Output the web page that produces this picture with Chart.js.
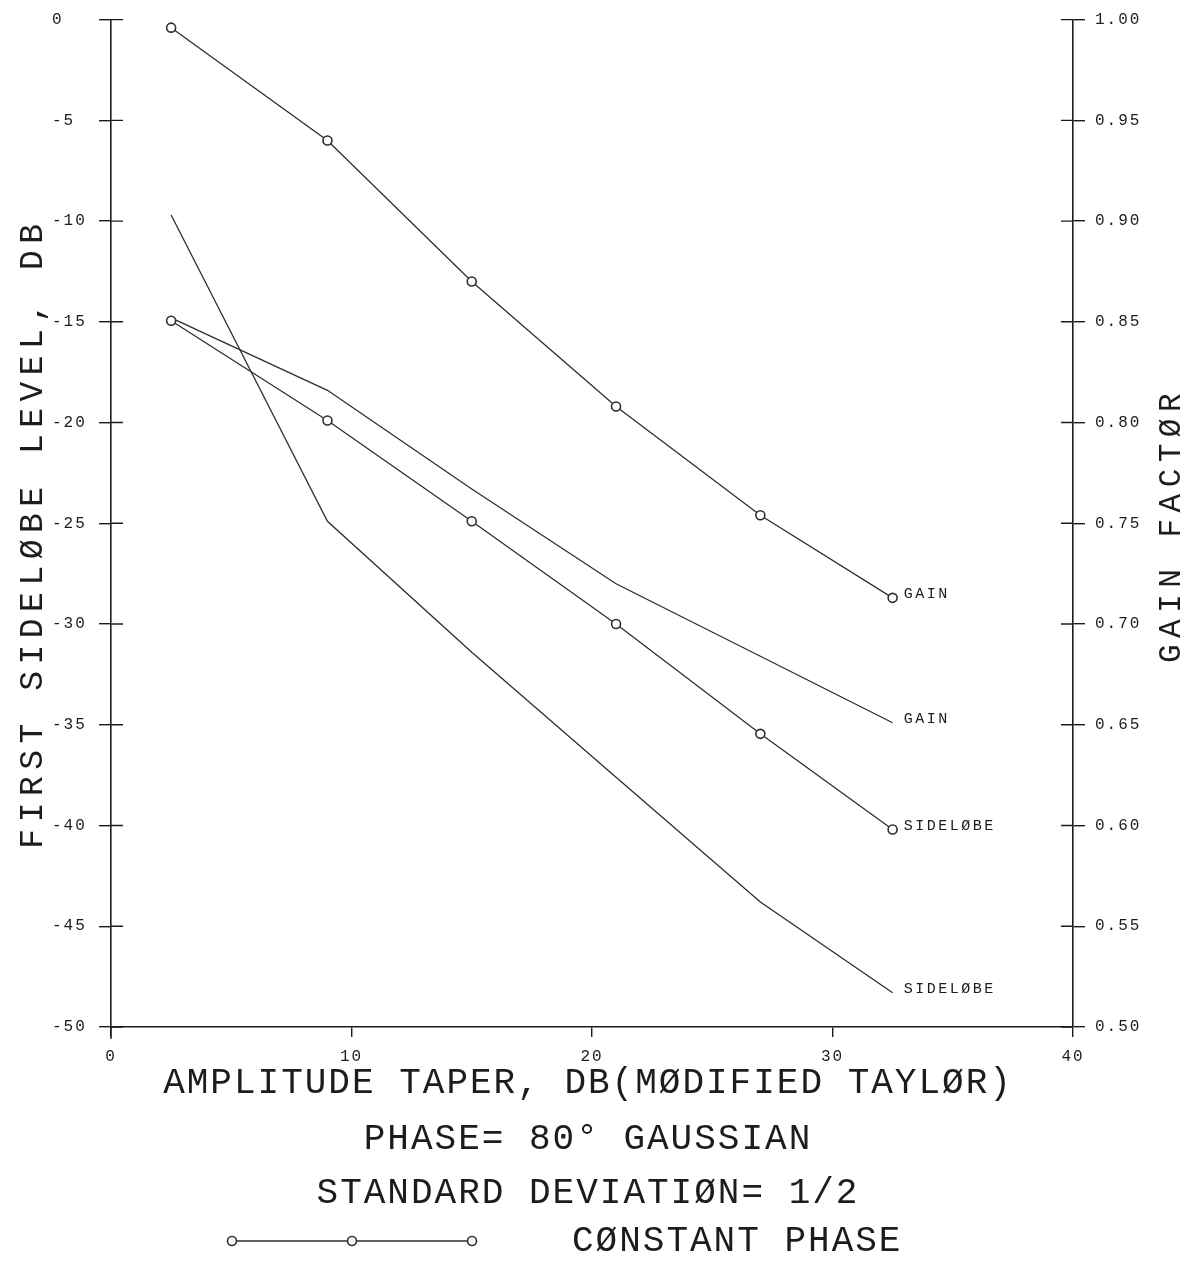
<!DOCTYPE html>
<html>
<head>
<meta charset="utf-8">
<script src="https://cdn.jsdelivr.net/npm/chart.js@4.4.1/dist/chart.umd.min.js"></script>
<style>
  html, body { margin: 0; padding: 0; background: #fff; }
  #wrap { width: 1193px; height: 1263px; position: relative; }
</style>
</head>
<body>
<div id="wrap"><canvas id="c" width="1193" height="1263"></canvas></div>
<script>
// Amplitude taper (dB, modified Taylor) at which each case was computed
const taper = [2.5, 9, 15, 21, 27, 32.5];

// Constant phase
const sidelobeConstant = [-14.95, -19.9, -24.9, -30.0, -35.45, -40.2];
const gainConstant = [0.996, 0.940, 0.870, 0.808, 0.754, 0.713];

// 80 degree Gaussian phase, standard deviation 1/2
const sidelobeGaussian = [-9.7, -24.9, -31.4, -37.6, -43.8, -48.3];
const gainGaussian = [0.852, 0.816, 0.767, 0.720, 0.684, 0.651];

// Tick labels (ascending value order)
const xTickLabels = ['0', '10', '20', '30', '40'];
const leftTickLabels = ['-50', '-45', '-40', '-35', '-30', '-25', '-20', '-15', '-10', '-5', '0'];
const rightTickLabels = ['0.50', '0.55', '0.60', '0.65', '0.70', '0.75', '0.80', '0.85', '0.90', '0.95', '1.00'];

// Curve-end labels
const endLabels = ['GAIN', 'SIDELØBE', 'GAIN', 'SIDELØBE'];

const INK = '#1c1c1c';
const LINE = '#2e2e2e';
const FONT = '"Liberation Mono", "DejaVu Sans Mono", monospace';

const pts = (ys) => taper.map((x, i) => ({ x: x, y: ys[i] }));

const markerStyle = {
  pointRadius: 4.5,
  pointBorderWidth: 1.6,
  pointBackgroundColor: '#fff',
  pointBorderColor: LINE,
  pointStyle: 'circle'
};

const datasets = [
  Object.assign({ label: endLabels[0], data: pts(gainConstant), yAxisID: 'y2',
    borderColor: LINE, borderWidth: 1.3, tension: 0 }, markerStyle),
  Object.assign({ label: endLabels[1], data: pts(sidelobeConstant), yAxisID: 'y',
    borderColor: LINE, borderWidth: 1.3, tension: 0 }, markerStyle),
  { label: endLabels[2], data: pts(gainGaussian), yAxisID: 'y2',
    borderColor: LINE, borderWidth: 1.3, pointRadius: 0, tension: 0 },
  { label: endLabels[3], data: pts(sidelobeGaussian), yAxisID: 'y',
    borderColor: LINE, borderWidth: 1.3, pointRadius: 0, tension: 0 }
];

function spaced(ctx, text, x, y, spacing) {
  ctx.letterSpacing = spacing + 'px';
  ctx.fillText(text, x, y);
}

const decorations = {
  id: 'decorations',
  beforeDraw(chart) {
    chart.ctx.letterSpacing = '2px';
  },
  afterDraw(chart) {
    const ctx = chart.ctx;
    const area = chart.chartArea;
    const sy = chart.scales.y, sy2 = chart.scales.y2;
    ctx.save();
    ctx.strokeStyle = INK;
    ctx.lineWidth = 1.4;

    // cross ticks reaching into the plot area
    ctx.beginPath();
    sy.ticks.forEach(t => {
      const p = sy.getPixelForValue(t.value);
      ctx.moveTo(area.left, p); ctx.lineTo(area.left + 12, p);
    });
    sy2.ticks.forEach(t => {
      const p = sy2.getPixelForValue(t.value);
      ctx.moveTo(area.right - 12, p); ctx.lineTo(area.right, p);
    });
    // left axis runs a little below the base line
    ctx.moveTo(area.left, area.bottom); ctx.lineTo(area.left, area.bottom + 12);
    ctx.stroke();

    ctx.fillStyle = INK;

    // labels at the end of each curve
    ctx.font = '15px ' + FONT;
    ctx.textAlign = 'left';
    ctx.textBaseline = 'middle';
    chart.data.datasets.forEach((ds, i) => {
      const meta = chart.getDatasetMeta(i);
      const last = meta.data[meta.data.length - 1];
      spaced(ctx, ds.label, last.x + 11, last.y - 4, 2.5);
    });

    // left axis title
    ctx.font = '33px ' + FONT;
    ctx.textAlign = 'center';
    ctx.save();
    ctx.translate(33, 536);
    ctx.rotate(-Math.PI / 2);
    spaced(ctx, 'FIRST SIDELØBE LEVEL, DB', 3, 0, 6.5);
    ctx.restore();

    // right axis title
    ctx.font = '31px ' + FONT;
    ctx.save();
    ctx.translate(1172, 528);
    ctx.rotate(-Math.PI / 2);
    spaced(ctx, 'GAIN FACTØR', 3, 0, 6.5);
    ctx.restore();

    // x axis title and case description
    ctx.font = '36px ' + FONT;
    const cx = 588;
    spaced(ctx, 'AMPLITUDE TAPER, DB(MØDIFIED TAYLØR)', cx, 1083, 2);
    spaced(ctx, 'PHASE= 80° GAUSSIAN', cx, 1139, 2);
    spaced(ctx, 'STANDARD DEVIATIØN= 1/2', cx, 1193, 2);

    // key for the marked curves
    ctx.textAlign = 'left';
    spaced(ctx, 'CØNSTANT PHASE', 572, 1241, 2);
    ctx.strokeStyle = LINE;
    ctx.lineWidth = 1.3;
    ctx.beginPath();
    ctx.moveTo(232, 1241); ctx.lineTo(472, 1241);
    ctx.stroke();
    [232, 352, 472].forEach(x => {
      ctx.beginPath();
      ctx.arc(x, 1241, 4.5, 0, Math.PI * 2);
      ctx.fillStyle = '#fff';
      ctx.fill();
      ctx.lineWidth = 1.6;
      ctx.stroke();
    });

    ctx.restore();
  }
};

const tickFont = { family: FONT, size: 16 };

new Chart(document.getElementById('c'), {
  type: 'line',
  data: { datasets: datasets },
  plugins: [decorations],
  options: {
    responsive: false,
    animation: false,
    devicePixelRatio: 1,
    layout: { padding: { left: 52, top: 17, right: 0, bottom: 0 } },
    plugins: { legend: { display: false }, tooltip: { enabled: false } },
    scales: {
      x: {
        type: 'linear', min: 0, max: 40,
        ticks: {
          stepSize: 10, autoSkip: false, maxRotation: 0, padding: 10,
          font: tickFont, color: INK,
          callback: (v, i) => xTickLabels[i]
        },
        grid: { drawOnChartArea: false, drawTicks: true, tickLength: 10, color: INK, lineWidth: 1.4 },
        border: { display: true, color: INK, width: 1.6 },
        afterFit: (s) => { s.height = 236; }
      },
      y: {
        type: 'linear', position: 'left', min: -50, max: 0,
        ticks: {
          stepSize: 5, crossAlign: 'far', font: tickFont, color: INK,
          callback: (v, i) => leftTickLabels[i]
        },
        grid: { drawOnChartArea: false, drawTicks: true, tickLength: 12, color: INK, lineWidth: 1.4 },
        border: { display: true, color: INK, width: 1.6 },
        afterFit: (s) => { s.width = 59; }
      },
      y2: {
        type: 'linear', position: 'right', min: 0.5, max: 1.0,
        ticks: {
          stepSize: 0.05, padding: 10, font: tickFont, color: INK,
          callback: (v, i) => rightTickLabels[i]
        },
        grid: { drawOnChartArea: false, drawTicks: true, tickLength: 12, color: INK, lineWidth: 1.4 },
        border: { display: true, color: INK, width: 1.6 },
        afterFit: (s) => { s.width = 120; }
      }
    }
  }
});
</script>
</body>
</html>
